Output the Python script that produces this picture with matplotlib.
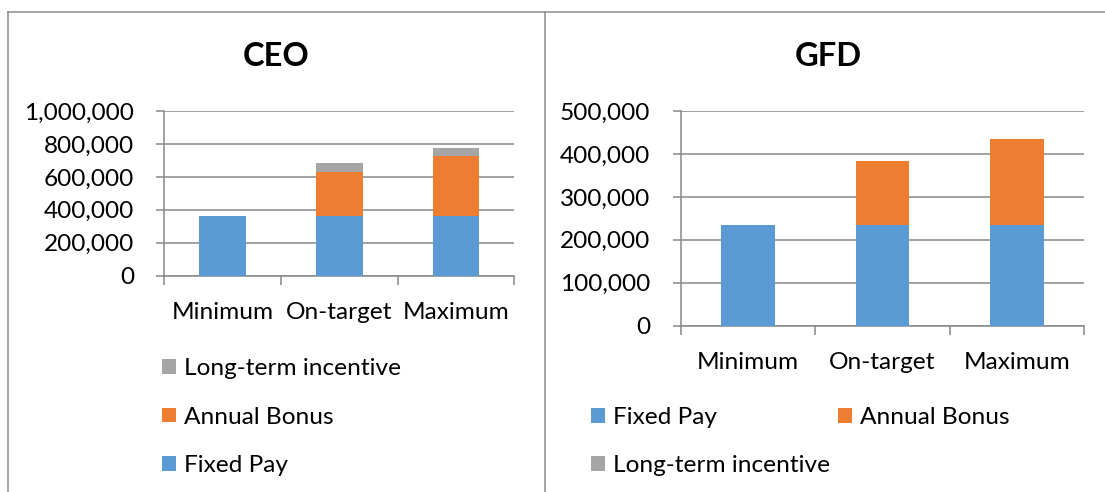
import matplotlib
matplotlib.use("Agg")
import matplotlib.pyplot as plt
from matplotlib.lines import Line2D
from matplotlib.ticker import FuncFormatter, FixedLocator
import numpy as np

plt.rcParams['font.family'] = ['Lato', 'DejaVu Sans']

categories = ["Minimum", "On-target", "Maximum"]
series_names = ["Fixed Pay", "Annual Bonus", "Long-term incentive"]
colors = ["#5B9BD5", "#ED7D31", "#A5A5A5"]

ceo_fixed = [360000, 360000, 360000]
ceo_bonus = [0, 270000, 365000]
ceo_lti = [0, 52000, 48000]
ceo_ticks = [0, 200000, 400000, 600000, 800000, 1000000]

gfd_fixed = [235000, 235000, 235000]
gfd_bonus = [0, 149000, 199000]
gfd_lti = [0, 0, 0]
gfd_ticks = [0, 100000, 200000, 300000, 400000, 500000]

W, H = 1105, 492
grid_col = "#878787"
fs = 17.6

fig = plt.figure(figsize=(W / 100, H / 100), dpi=100)


def px_axes(x0, y0, x1, y1):
    return fig.add_axes([x0 / W, 1 - y1 / H, (x1 - x0) / W, (y1 - y0) / H])


def draw(ax, fixed, bonus, lti, ticks, xpad):
    x = np.arange(len(categories))
    bars = []
    bottom = np.zeros(len(categories))
    for vals, col in zip([fixed, bonus, lti], colors):
        b = ax.bar(x, vals, 0.4, bottom=bottom, color=col, zorder=3)
        bars.append(b)
        bottom = bottom + np.array(vals)
    ax.set_xlim(-0.5, len(categories) - 0.5)
    ax.set_ylim(ticks[0], ticks[-1])
    ax.set_yticks(ticks)
    ax.yaxis.set_major_formatter(FuncFormatter(lambda v, p: f"{int(v):,}"))
    ax.set_xticks(x)
    ax.set_xticklabels(categories)
    ax.xaxis.set_minor_locator(FixedLocator(np.arange(-0.5, len(categories), 1.0)))
    ax.grid(axis='y', color=grid_col, linewidth=1.1, zorder=0)
    for s in ['top', 'right']:
        ax.spines[s].set_visible(False)
    for s in ['left', 'bottom']:
        ax.spines[s].set_color(grid_col)
        ax.spines[s].set_linewidth(1.1)
    ax.tick_params(axis='y', length=5.8, width=1.1, color=grid_col, pad=16, labelsize=fs)
    ax.tick_params(axis='x', which='major', length=0, pad=xpad, labelsize=fs)
    ax.tick_params(axis='x', which='minor', length=6.5, width=1.1, color=grid_col)
    return bars


ax1 = px_axes(164.3, 111, 514.3, 275.7)
b1 = draw(ax1, ceo_fixed, ceo_bonus, ceo_lti, ceo_ticks, 19)
ax2 = px_axes(680.7, 111, 1084.3, 325.7)
b2 = draw(ax2, gfd_fixed, gfd_bonus, gfd_lti, gfd_ticks, 19)

fig.text(276.5 / W, 1 - 56 / H, "CEO", ha='center', va='center', fontsize=23.5, fontweight='bold')
fig.text(828 / W, 1 - 56 / H, "GFD", ha='center', va='center', fontsize=23.5, fontweight='bold')

leg_kw = dict(frameon=False, fontsize=fs, handlelength=0.56, handleheight=0.56,
              handletextpad=0.33, borderpad=0, borderaxespad=0)
fig.legend([b1[2], b1[1], b1[0]], [series_names[2], series_names[1], series_names[0]],
           loc='upper left', bbox_to_anchor=(162 / W, 1 - 358 / H), labelspacing=1.13, **leg_kw)
fig.legend([b2[0], b2[2], b2[1]], [series_names[0], series_names[2], series_names[1]],
           loc='upper left', bbox_to_anchor=(591 / W, 1 - 407.5 / H), ncol=2,
           labelspacing=1.08, columnspacing=0.35, **leg_kw)

# chart frames
frame = dict(color="#8C8C8C", linewidth=1.1, transform=fig.transFigure)
fig.add_artist(Line2D([8 / W, 1], [1 - 12 / H, 1 - 12 / H], **frame))
fig.add_artist(Line2D([8 / W, 8 / W], [1 - 12 / H, 0], **frame))
fig.add_artist(Line2D([545 / W, 545 / W], [1 - 12 / H, 0], **frame))

fig.savefig("out.png", dpi=100)
